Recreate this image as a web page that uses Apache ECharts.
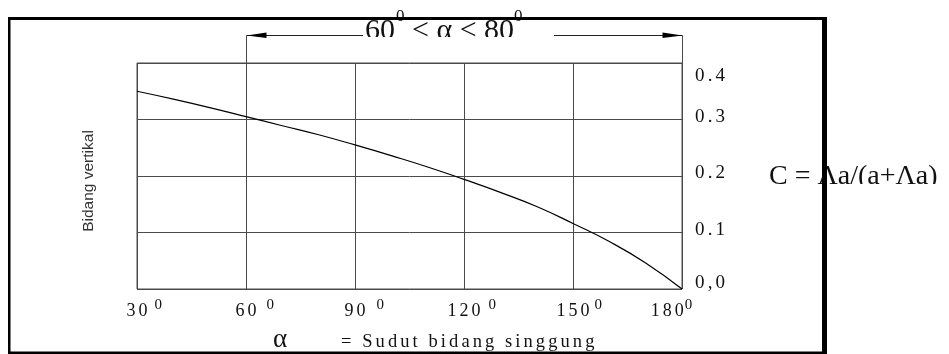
<!DOCTYPE html>
<html>
<head>
<meta charset="utf-8">
<script src="https://cdn.jsdelivr.net/npm/echarts@6/dist/echarts.min.js"></script>
<style>
  html, body { margin: 0; padding: 0; background: #fff; }
  #chart { width: 949px; height: 354px; }
</style>
</head>
<body>
<div id="chart"></div>
<script>
// Koefisien C terhadap sudut bidang singgung α (derajat)
const alphaDeg = [30, 40, 50, 60, 70, 80, 90, 100, 110, 120, 130, 140, 150, 160, 170, 180];
const cValues  = [0.350, 0.336, 0.321, 0.305, 0.289, 0.273, 0.255, 0.236, 0.216, 0.194, 0.171, 0.146, 0.116, 0.084, 0.046, 0.000];

// Label sumbu
const xTickLabels = ['30', '60', '90', '120', '150', '180'];
const yTickLabels = ['0,0', '0.1', '0.2', '0.3', '0.4'];

// Teks pendamping
const rangeMain   = ['60', '< α < 80'];
const yAxisTitle  = 'Bidang vertikal';
const xAxisSymbol = 'α';
const xAxisTitle  = '= Sudut bidang singgung';
const formulaText = 'C = Λa/(a+Λa)';

const SERIF = '"Liberation Serif", "Times New Roman", serif';
const SANS = '"Liberation Sans", Arial, sans-serif';
const GRID = '#4a4a4a';
const INK = '#111';

// letter-spaced text (six-per-em spaces between characters)
const spaced = s => Array.from(s).join('\u2006');

const chart = echarts.init(document.getElementById('chart'), null, { renderer: 'canvas' });

// gap before the degree mark, per tick
const supGap = { 30: 7, 60: 10, 90: 11, 120: 8, 150: 5, 180: 1 };

chart.setOption({
  animation: false,
  grid: { left: 137, right: 267, top: 63, bottom: 65, show: true, borderColor: GRID, borderWidth: 1 },
  xAxis: {
    type: 'value', min: 30, max: 180, interval: 30,
    axisLine: { show: false }, axisTick: { show: false },
    splitLine: { show: true, lineStyle: { color: GRID, width: 1 } },
    axisLabel: {
      margin: 13,
      formatter: v => {
        const i = Math.round((v - 30) / 30);
        const d = spaced(xTickLabels[i]);
        if (v === 180) return '{d|' + d + '}{s180|0}{q|\u2009}';
        return '{p' + v + '|\u2009}{d|' + d + '}{s' + v + '|0}';
      },
      rich: (() => {
        const r = {
          d: { fontFamily: SERIF, fontSize: 18, lineHeight: 18, color: INK, verticalAlign: 'bottom' },
          q: { width: 21, lineHeight: 10, verticalAlign: 'bottom' }
        };
        Object.keys(supGap).forEach(k => {
          const g = supGap[k];
          r['s' + k] = { fontFamily: SERIF, fontSize: 15, lineHeight: 15, color: INK,
                         padding: [0, 0, 7, g], verticalAlign: 'bottom' };
          r['p' + k] = { width: 7.5 + g, lineHeight: 10, verticalAlign: 'bottom' };
        });
        return r;
      })()
    }
  },
  yAxis: {
    type: 'value', min: 0, max: 0.4, interval: 0.1, position: 'right',
    axisLine: { show: false }, axisTick: { show: false },
    splitLine: { show: true, lineStyle: { color: GRID, width: 1 } },
    axisLabel: {
      margin: 13, align: 'left', verticalAlign: 'middle',
      formatter: v => {
        const i = Math.round(v * 10);
        const key = i === 4 ? 'hi' : (i === 0 ? 'lo' : 'mid');
        return '{' + key + '|' + spaced(yTickLabels[i]) + '}';
      },
      rich: {
        hi:  { fontFamily: SERIF, fontSize: 19, lineHeight: 19, color: INK, padding: [27, 0, 0, 0] },
        mid: { fontFamily: SERIF, fontSize: 19, lineHeight: 19, color: INK, padding: [0, 0, 5, 0] },
        lo:  { fontFamily: SERIF, fontSize: 19, lineHeight: 19, color: INK, padding: [0, 0, 12, 0] }
      }
    }
  },
  series: [{
    type: 'line',
    data: alphaDeg.map((a, i) => [a, cValues[i]]),
    smooth: 0.5,
    showSymbol: false,
    silent: true,
    lineStyle: { color: '#000', width: 1.2 }
  }]
});

// Annotations placed from the axis scales
const px = v => Math.round(chart.convertToPixel({ xAxisIndex: 0 }, v)) + 0.5;
const py = v => Math.round(chart.convertToPixel({ yAxisIndex: 0 }, v)) + 0.5;
const x60 = px(60), x180 = px(180), yTop = py(0.4);
const arrowY = 35.5;

const txt = (text, x, y, font, size, extra) => Object.assign({
  type: 'text', x, y, z: 40,
  style: { text, fontFamily: font, fontSize: size, fill: INK,
           align: 'left', textAlign: 'left', verticalAlign: 'middle', textVerticalAlign: 'middle' }
}, extra || {});

const frame = { fill: '#000' };

chart.setOption({
  graphic: [
    // range bracket above the grid
    { type: 'line', z: 30, shape: { x1: x60, y1: arrowY, x2: x60, y2: yTop }, style: { stroke: GRID, lineWidth: 1 } },
    { type: 'line', z: 30, shape: { x1: x180, y1: arrowY, x2: x180, y2: yTop }, style: { stroke: GRID, lineWidth: 1 } },
    { type: 'line', z: 30, shape: { x1: x60, y1: arrowY, x2: 363, y2: arrowY }, style: { stroke: '#222', lineWidth: 1 } },
    { type: 'line', z: 30, shape: { x1: 554, y1: arrowY, x2: x180, y2: arrowY }, style: { stroke: '#222', lineWidth: 1 } },
    { type: 'polygon', z: 31, shape: { points: [[x60, arrowY], [x60 + 20, arrowY - 3], [x60 + 20, arrowY + 2.5]] }, style: { fill: '#000' } },
    { type: 'polygon', z: 31, shape: { points: [[x180, arrowY], [x180 - 20, arrowY - 3], [x180 - 20, arrowY + 2.5]] }, style: { fill: '#000' } },

    // range label
    txt(rangeMain[0], 365, 31, SERIF, 30),
    txt('0', 396, 17, SERIF, 17),
    txt(rangeMain[1], 412, 31, SERIF, 30),
    txt('0', 514, 17, SERIF, 17),
    { type: 'rect', z: 50, shape: { x: 358, y: 37, width: 175, height: 16 }, style: { fill: '#fff' } },

    // formula on the right
    txt(formulaText, 769, 177, SERIF, 28),
    { type: 'rect', z: 50, shape: { x: 760, y: 184, width: 189, height: 20 }, style: { fill: '#fff' } },

    // vertical axis title
    { type: 'text', z: 40, x: 89, y: 181, rotation: Math.PI / 2,
      style: { text: yAxisTitle, fontFamily: SANS, fontSize: 15.5, fill: '#333',
               align: 'center', textAlign: 'center', verticalAlign: 'middle', textVerticalAlign: 'middle' } },

    // horizontal axis title
    txt(xAxisSymbol, 273, 340, SERIF, 27),
    txt(spaced(xAxisTitle), 341, 342, SERIF, 18.5),

    // outer frame
    { type: 'rect', z: 100, shape: { x: 8, y: 17, width: 819, height: 3 }, style: frame },
    { type: 'rect', z: 100, shape: { x: 8, y: 17, width: 2.5, height: 337 }, style: frame },
    { type: 'rect', z: 100, shape: { x: 822, y: 19, width: 5, height: 335 }, style: frame },
    { type: 'rect', z: 100, shape: { x: 8, y: 351.5, width: 819, height: 2.5 }, style: frame }
  ]
});
</script>
</body>
</html>
